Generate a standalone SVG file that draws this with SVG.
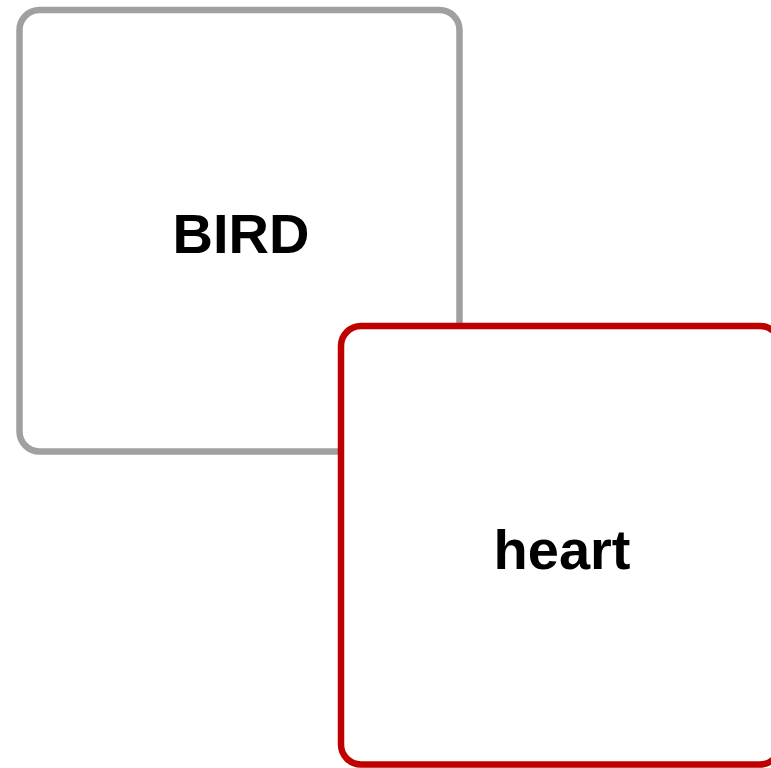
<svg xmlns="http://www.w3.org/2000/svg" width="771" height="768" viewBox="0 0 771 768">
  <style>
    .box { fill: #ffffff; stroke-width: 6.5; }
    .label { font-family: "Liberation Sans", Arial, sans-serif; font-weight: bold; font-size: 56px; fill: #000000; text-anchor: middle; }
  </style>
  <rect width="771" height="768" fill="#ffffff"/>
  <g id="bird">
    <rect class="box" x="19.5" y="10" width="440" height="441.5" rx="20" ry="20" stroke="#a0a0a0"/>
    <text class="label" x="241" y="253">BIRD</text>
  </g>
  <g id="heart">
    <rect class="box" x="341" y="326" width="439" height="438.5" rx="20" ry="20" stroke="#c00000"/>
    <text class="label" x="562" y="569">heart</text>
  </g>
  <g id="connectors"></g>
</svg>
